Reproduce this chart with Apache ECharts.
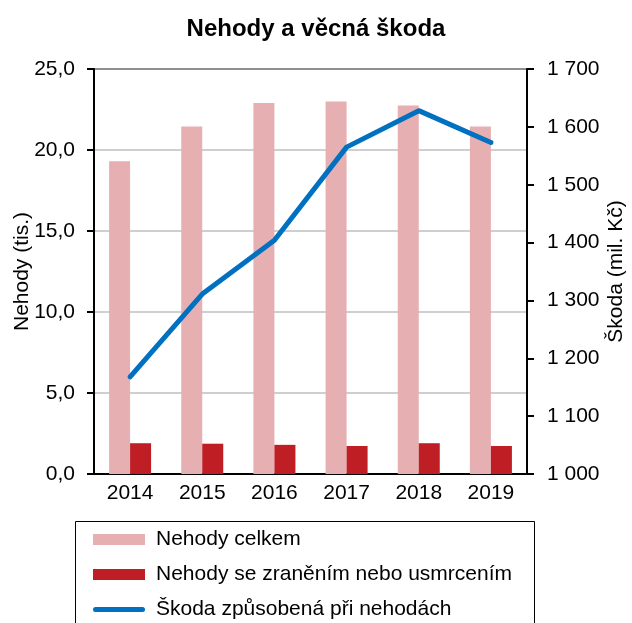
<!DOCTYPE html>
<html>
<head>
<meta charset="utf-8">
<script src="https://cdn.jsdelivr.net/npm/echarts@6/dist/echarts.min.js"></script>
<style>
  html, body { margin: 0; padding: 0; background: #fff; }
  #chart { width: 632px; height: 623px; }
</style>
</head>
<body>
<div id="chart"></div>
<script>
const years = ['2014', '2015', '2016', '2017', '2018', '2019'];
const nehodyCelkem = [19.3, 21.45, 22.9, 23.0, 22.75, 21.45];
const nehodyZraneni = [1.9, 1.87, 1.8, 1.73, 1.9, 1.73];
const skoda = [1168, 1311, 1404, 1565, 1628, 1573];

const font = 'Arial, "Liberation Sans", sans-serif';
const blue = '#0070C0';

var myChart = echarts.init(document.getElementById('chart'));

let option = {
    animation: false,
    textStyle: { fontFamily: font, color: '#000' },
    title: {
        text: 'Nehody a věcná škoda',
        left: 'center',
        top: 12,
        textStyle: { fontFamily: font, fontSize: 24, fontWeight: 'bold', color: '#000' }
    },
    grid: {
        left: 94,
        right: 105,
        top: 69,
        bottom: 149,
        outerBoundsMode: 'none',
        show: true,
        borderColor: '#000',
        borderWidth: 2
    },
    // legend frame runs past the bottom edge, like in the original
    graphic: [{
        type: 'rect',
        shape: { x: 75.5, y: 521.5, width: 459, height: 140 },
        style: { fill: 'none', stroke: '#000', lineWidth: 1 },
        z: 0
    }],
    legend: {
        orient: 'vertical',
        left: 75,
        top: 521,
        padding: [8, 0, 0, 18],
        itemWidth: 52,
        itemHeight: 11,
        itemGap: 14,
        textStyle: { fontFamily: font, fontSize: 21, color: '#000', padding: [0, 0, 0, 6] },
        data: [
            { name: 'Nehody celkem', icon: 'rect' },
            { name: 'Nehody se zraněním nebo usmrcením', icon: 'rect' },
            {
                name: 'Škoda způsobená při nehodách',
                icon: 'path://M2.5,0 L49.5,0 A2.5,2.5 0 0 1 49.5,5 L2.5,5 A2.5,2.5 0 0 1 2.5,0 Z',
                itemStyle: { color: blue }
            }
        ]
    },
    xAxis: {
        type: 'category',
        data: years,
        axisTick: { show: false },
        axisLine: { lineStyle: { color: '#000', width: 2 } },
        axisLabel: { fontSize: 21, color: '#000', margin: 9 }
    },
    yAxis: [
        {
            type: 'value',
            min: 0,
            max: 25,
            interval: 5,
            name: 'Nehody (tis.)',
            nameLocation: 'middle',
            nameGap: 61,
            nameMoveOverlap: false,
            nameTextStyle: { fontSize: 21, color: '#000' },
            axisLine: { show: true, lineStyle: { color: '#000', width: 2 } },
            axisTick: { show: true, length: 7, lineStyle: { color: '#000', width: 2 } },
            axisLabel: {
                fontSize: 21,
                color: '#000',
                margin: 19,
                formatter: (v) => v.toFixed(1).replace('.', ',')
            },
            splitLine: { lineStyle: { color: '#BFBFBF', width: 1.5 } }
        },
        {
            type: 'value',
            min: 1000,
            max: 1700,
            interval: 100,
            name: 'Škoda (mil. Kč)',
            nameLocation: 'middle',
            nameGap: 79,
            nameMoveOverlap: false,
            nameTextStyle: { fontSize: 21, color: '#000' },
            axisLine: { show: true, lineStyle: { color: '#000', width: 2 } },
            axisTick: { show: true, length: 7, lineStyle: { color: '#000', width: 2 } },
            axisLabel: {
                fontSize: 21,
                color: '#000',
                margin: 20,
                formatter: (v) => String(v).replace(/\B(?=(\d{3})+(?!\d))/g, ' ')
            },
            splitLine: { show: false }
        }
    ],
    series: [
        {
            name: 'Nehody celkem',
            type: 'bar',
            data: nehodyCelkem,
            barWidth: 21,
            barGap: '0%',
            itemStyle: { color: '#E6AFB2' }
        },
        {
            name: 'Nehody se zraněním nebo usmrcením',
            type: 'bar',
            data: nehodyZraneni,
            barWidth: 21,
            itemStyle: { color: '#BE1E24' }
        },
        {
            name: 'Škoda způsobená při nehodách',
            type: 'line',
            yAxisIndex: 1,
            data: skoda,
            symbol: 'none',
            lineStyle: { color: blue, width: 5, cap: 'round', join: 'round' },
            itemStyle: { color: blue }
        }
    ]
};

option && myChart.setOption(option);
</script>
</body>
</html>
